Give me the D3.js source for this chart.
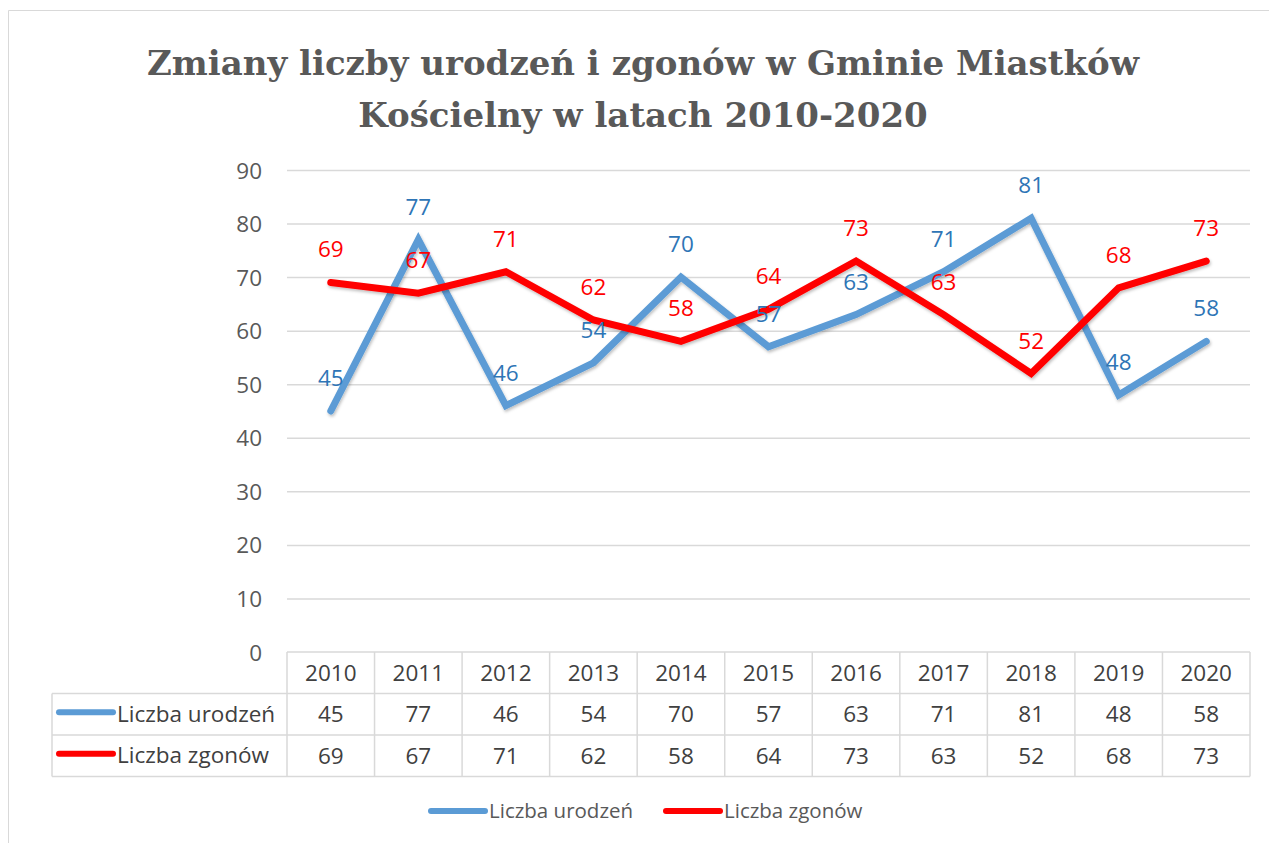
<!DOCTYPE html>
<html>
<head>
<meta charset="utf-8">
<script src="https://cdn.jsdelivr.net/npm/d3@7"></script>
<style>
  body { margin: 0; background: #fff; }
  svg { display: block; }
</style>
</head>
<body>
<svg id="chart" width="1269" height="843"></svg>
<script>
// data
const years = ['2010','2011','2012','2013','2014','2015','2016','2017','2018','2019','2020'];
const urodzenia = [45, 77, 46, 54, 70, 57, 63, 71, 81, 48, 58];
const zgony = [69, 67, 71, 62, 58, 64, 73, 63, 52, 68, 73];
const yTicks = [0, 10, 20, 30, 40, 50, 60, 70, 80, 90];

const series = [
  {name: 'Liczba urodzeń', values: urodzenia, color: '#5b9bd5', label: '#2e75b6'},
  {name: 'Liczba zgonów', values: zgony, color: '#ff0000', label: '#ff0000'}
];

const svg = d3.select('#chart');
const font = '"Open Sans", sans-serif';
const fs = 22.5;

// outer frame
svg.append('path')
  .attr('d', 'M8.5,843 L8.5,10.5 L1269,10.5')
  .attr('fill', 'none').attr('stroke', '#d9d9d9');

// title
const title = svg.append('text')
  .attr('text-anchor', 'middle')
  .attr('font-family', '"DejaVu Serif", Georgia, serif')
  .attr('font-weight', 'bold')
  .attr('font-size', 34)
  .attr('fill', '#595959');
title.append('tspan').attr('x', 643).attr('y', 75).text('Zmiany liczby urodzeń i zgonów w Gminie Miastków');
title.append('tspan').attr('x', 643).attr('y', 127).text('Kościelny w latach 2010-2020');

const x = d3.scaleBand().domain(years).range([287, 1250]);
const y = d3.scaleLinear().domain([0, 90]).range([652, 170]);

// gridlines
svg.append('g').selectAll('line').data(yTicks.filter(d => d > 0)).join('line')
  .attr('x1', 287).attr('x2', 1250)
  .attr('y1', d => y(d) + 0.5).attr('y2', d => y(d) + 0.5)
  .attr('stroke', '#d9d9d9').attr('stroke-width', 1.5);

// y axis
const yAxis = svg.append('g')
  .attr('transform', 'translate(262,0)')
  .call(d3.axisLeft(y).tickValues(yTicks).tickSize(0).tickPadding(0));
yAxis.select('.domain').remove();
yAxis.selectAll('text')
  .attr('font-family', font).attr('font-size', fs).attr('fill', '#595959')
  .attr('dy', '0.36em');

// lines
const line = d3.line()
  .x((d, i) => x(years[i]) + x.bandwidth() / 2)
  .y(d => y(d));

const defs = svg.append('defs');
defs.append('filter').attr('id', 'shadow')
  .attr('x', '-5%').attr('y', '-20%').attr('width', '110%').attr('height', '140%')
  .append('feDropShadow')
  .attr('dx', 1).attr('dy', 2).attr('stdDeviation', 1.5)
  .attr('flood-color', '#000').attr('flood-opacity', 0.25);

svg.append('g').selectAll('path').data(series).join('path')
  .attr('d', s => line(s.values))
  .attr('fill', 'none')
  .attr('stroke', s => s.color)
  .attr('stroke-width', 7)
  .attr('stroke-linecap', 'round')
  .attr('stroke-linejoin', 'miter')
  .attr('filter', 'url(#shadow)');

// data labels
series.forEach(s => {
  svg.append('g').selectAll('text').data(s.values).join('text')
    .attr('x', (d, i) => x(years[i]) + x.bandwidth() / 2)
    .attr('y', d => y(d) - 25)
    .attr('text-anchor', 'middle')
    .attr('font-family', font).attr('font-size', fs)
    .attr('fill', s.label)
    .text(d => d);
});

// data table
const rowH = 41.5;
const tTop = 652;
const grid = svg.append('g').attr('stroke', '#d9d9d9').attr('stroke-width', 1.5).attr('fill', 'none');
grid.append('line').attr('x1', 287).attr('x2', 1250).attr('y1', tTop).attr('y2', tTop);
[1, 2, 3].forEach(r => {
  grid.append('line').attr('x1', 52).attr('x2', 1250)
    .attr('y1', tTop + r * rowH).attr('y2', tTop + r * rowH);
});
years.forEach(yr => {
  grid.append('line').attr('x1', x(yr)).attr('x2', x(yr)).attr('y1', tTop).attr('y2', tTop + 3 * rowH);
});
grid.append('line').attr('x1', 1250).attr('x2', 1250).attr('y1', tTop).attr('y2', tTop + 3 * rowH);
grid.append('line').attr('x1', 52).attr('x2', 52).attr('y1', tTop + rowH).attr('y2', tTop + 3 * rowH);

// header years
svg.append('g').selectAll('text').data(years).join('text')
  .attr('x', d => x(d) + x.bandwidth() / 2)
  .attr('y', tTop + rowH / 2)
  .attr('dy', '0.36em')
  .attr('text-anchor', 'middle')
  .attr('font-family', font).attr('font-size', fs).attr('fill', '#404040')
  .text(d => d);

series.forEach((s, r) => {
  const cy = tTop + (r + 1.5) * rowH;
  svg.append('line')
    .attr('x1', 59).attr('x2', 113).attr('y1', cy - 2).attr('y2', cy - 2)
    .attr('stroke', s.color).attr('stroke-width', 6).attr('stroke-linecap', 'round');
  svg.append('text')
    .attr('x', 117).attr('y', cy).attr('dy', '0.33em')
    .attr('font-family', font).attr('font-size', fs).attr('fill', '#404040')
    .text(s.name);
  svg.append('g').selectAll('text').data(s.values).join('text')
    .attr('x', (d, i) => x(years[i]) + x.bandwidth() / 2)
    .attr('y', cy).attr('dy', '0.36em')
    .attr('text-anchor', 'middle')
    .attr('font-family', font).attr('font-size', fs).attr('fill', '#404040')
    .text(d => d);
});

// legend
const legendX = [431, 666];
series.forEach((s, i) => {
  svg.append('line')
    .attr('x1', legendX[i]).attr('x2', legendX[i] + 54).attr('y1', 811).attr('y2', 811)
    .attr('stroke', s.color).attr('stroke-width', 6).attr('stroke-linecap', 'round');
  svg.append('text')
    .attr('x', legendX[i] + 58).attr('y', 811).attr('dy', '0.33em')
    .attr('font-family', font).attr('font-size', 20.5).attr('fill', '#595959')
    .text(s.name);
});
</script>
</body>
</html>
